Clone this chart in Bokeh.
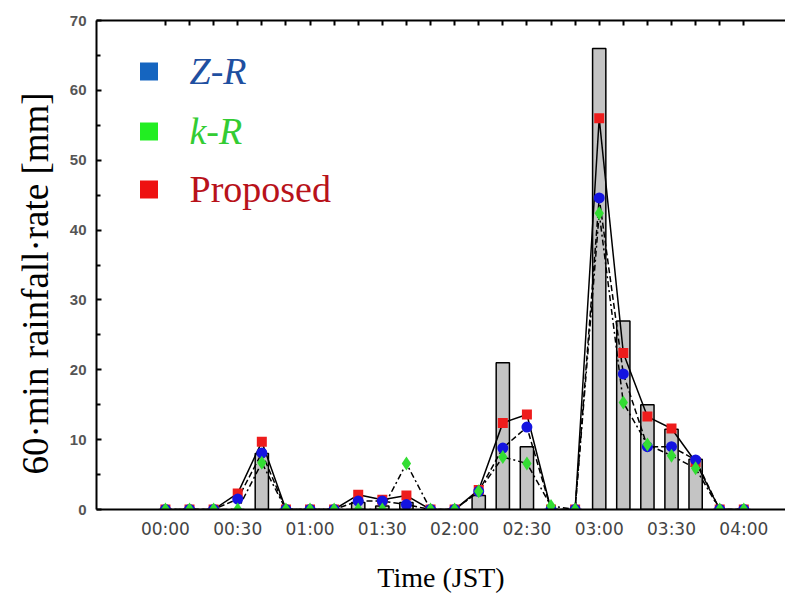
from bokeh.plotting import figure
from bokeh.models import LinearAxis, FixedTicker, Range1d, Legend, LegendItem, Title
from bokeh.embed import file_html
from bokeh.resources import INLINE

# time of day in minutes after 00:00 (10-minute steps)
minutes = [0, 10, 20, 30, 40, 50, 60, 70, 80, 90, 100, 110, 120,
           130, 140, 150, 160, 170, 180, 190, 200, 210, 220, 230, 240]
# observed 60-min rainfall (gray bars)
observed = [0, 0, 0, 0, 8.0, 0, 0, 0, 1.0, 0.5, 1.0, 0, 0,
            2.0, 21.0, 9.0, 0, 0, 66.0, 27.0, 15.0, 11.5, 7.2, 0, 0]
# Z-R estimate (blue circles)
zr = [0, 0, 0, 1.5, 8.1, 0, 0, 0, 1.2, 1.2, 0.7, 0, 0,
      2.6, 8.8, 11.8, 0, 0, 44.6, 19.4, 9.0, 9.0, 7.1, 0, 0]
# k-R estimate (green diamonds)
kr = [0, 0, 0, 0, 6.7, 0, 0, 0, 0, 0, 6.6, 0, 0,
      2.6, 7.5, 6.6, 0.5, 0, 42.4, 15.3, 9.3, 7.7, 5.9, 0, 0]
# Proposed estimate (red squares)
proposed = [0, 0, 0, 2.3, 9.7, 0, 0, 0, 2.1, 1.4, 2.0, 0, 0,
            2.8, 12.4, 13.6, 0, 0, 56.0, 22.4, 13.3, 11.6, 6.8, 0, 0]

tick_minutes = [0, 30, 60, 90, 120, 150, 180, 210, 240]
tick_labels = ["00:00", "00:30", "01:00", "01:30", "02:00",
               "02:30", "03:00", "03:30", "04:00"]
y_ticks = [0, 10, 20, 30, 40, 50, 60, 70]
y_minor = [5, 15, 25, 35, 45, 55, 65]

p = figure(width=785, height=595, x_range=Range1d(-28.6, 257.3),
           y_range=Range1d(0, 70), output_backend="svg",
           toolbar_location=None)
p.min_border_left = 96
p.min_border_right = 0
p.min_border_top = 20
p.min_border_bottom = 85
p.outline_line_color = None
p.grid.visible = False
p.background_fill_color = "white"

# bottom axis
xa = p.xaxis[0]
xa.ticker = FixedTicker(ticks=tick_minutes)
xa.major_label_overrides = {m: l for m, l in zip(tick_minutes, tick_labels)}
xa.major_tick_in = 0
xa.major_tick_out = 0
xa.minor_tick_in = 0
xa.minor_tick_out = 0
xa.axis_line_width = 2
xa.axis_line_color = "black"
xa.major_label_text_font = "DejaVu Sans"
xa.major_label_text_font_size = "17px"
xa.major_label_text_color = "#444444"
xa.major_label_standoff = 9
xa.axis_label = "Time (JST)"
xa.axis_label_text_font = "Liberation Serif"
xa.axis_label_text_font_style = "normal"
xa.axis_label_text_font_size = "28px"
xa.axis_label_text_color = "black"
xa.axis_label_standoff = 20

# left axis
ya = p.yaxis[0]
ya.ticker = FixedTicker(ticks=y_ticks, minor_ticks=y_minor)
ya.major_tick_in = 5
ya.major_tick_out = 0
ya.minor_tick_in = 4
ya.minor_tick_out = 0
ya.major_tick_line_width = 2
ya.minor_tick_line_width = 2
ya.axis_line_width = 2
ya.axis_line_color = "black"
ya.major_label_text_font = "Liberation Sans"
ya.major_label_text_font_style = "bold"
ya.major_label_text_font_size = "15px"
ya.major_label_text_color = "#555555"
ya.major_label_standoff = 10

# y-axis title (as a side title so it can sit slightly below centre)
ytitle = Title(text="60\u00b7min rainfall\u00b7rate [mm]", align="left",
               offset=35, standoff=22, text_font="Liberation Serif",
               text_font_size="37px", text_font_style="normal",
               text_color="black")
p.add_layout(ytitle, "left")

# top axis with inward ticks only (no labels)
top = LinearAxis(ticker=FixedTicker(ticks=minutes), major_tick_in=5,
                 major_tick_out=0, minor_tick_in=0, minor_tick_out=0,
                 major_tick_line_width=2, axis_line_width=2,
                 major_label_overrides={m: "" for m in minutes},
                 major_label_standoff=0)
p.add_layout(top, "above")

# bars
p.vbar(x=minutes, top=observed, width=5.5, fill_color="#c4c4c4",
       line_color="black", line_width=1.5)

# lines
p.line(minutes, proposed, line_color="black", line_width=1.5)
p.line(minutes, zr, line_color="black", line_width=1.5, line_dash="6 3")
p.line(minutes, kr, line_color="black", line_width=1.5, line_dash="6 3 2 3")

# markers
p.scatter(minutes, proposed, marker="square", size=10,
          fill_color="#ee1c1c", line_color=None)
p.scatter(minutes, zr, marker="circle", size=11,
          fill_color="#1414e0", line_color=None)
p.scatter(minutes, kr, marker="diamond", size=14,
          fill_color="#33dd33", line_color=None)

# legend (three single-item legends for separate label colours)
leg_specs = [
    ("Z-R", "#1565c0", "#1f4fa0", "italic", 413),
    ("k-R", "#22ee22", "#33cc33", "italic", 353),
    ("Proposed", "#ee1111", "#b8121a", "normal", 295),
]
for label, sq_col, txt_col, style, ypos in leg_specs:
    # proxy renderer: one zero-size point so only the legend swatch shows
    r = p.scatter(x=minutes[:1], y=observed[:1], marker="square", size=0,
                  fill_color=sq_col, line_color=None)
    leg = Legend(items=[LegendItem(label=label, renderers=[r])],
                 location=(29.5, ypos), glyph_width=45, glyph_height=50,
                 label_standoff=19, label_text_font="Liberation Serif",
                 label_text_font_style=style, label_text_font_size="38px",
                 label_text_color=txt_col, padding=0, margin=0, spacing=0,
                 border_line_color=None, background_fill_alpha=0)
    p.add_layout(leg)

open("out.html", "w").write(file_html(p, INLINE))
